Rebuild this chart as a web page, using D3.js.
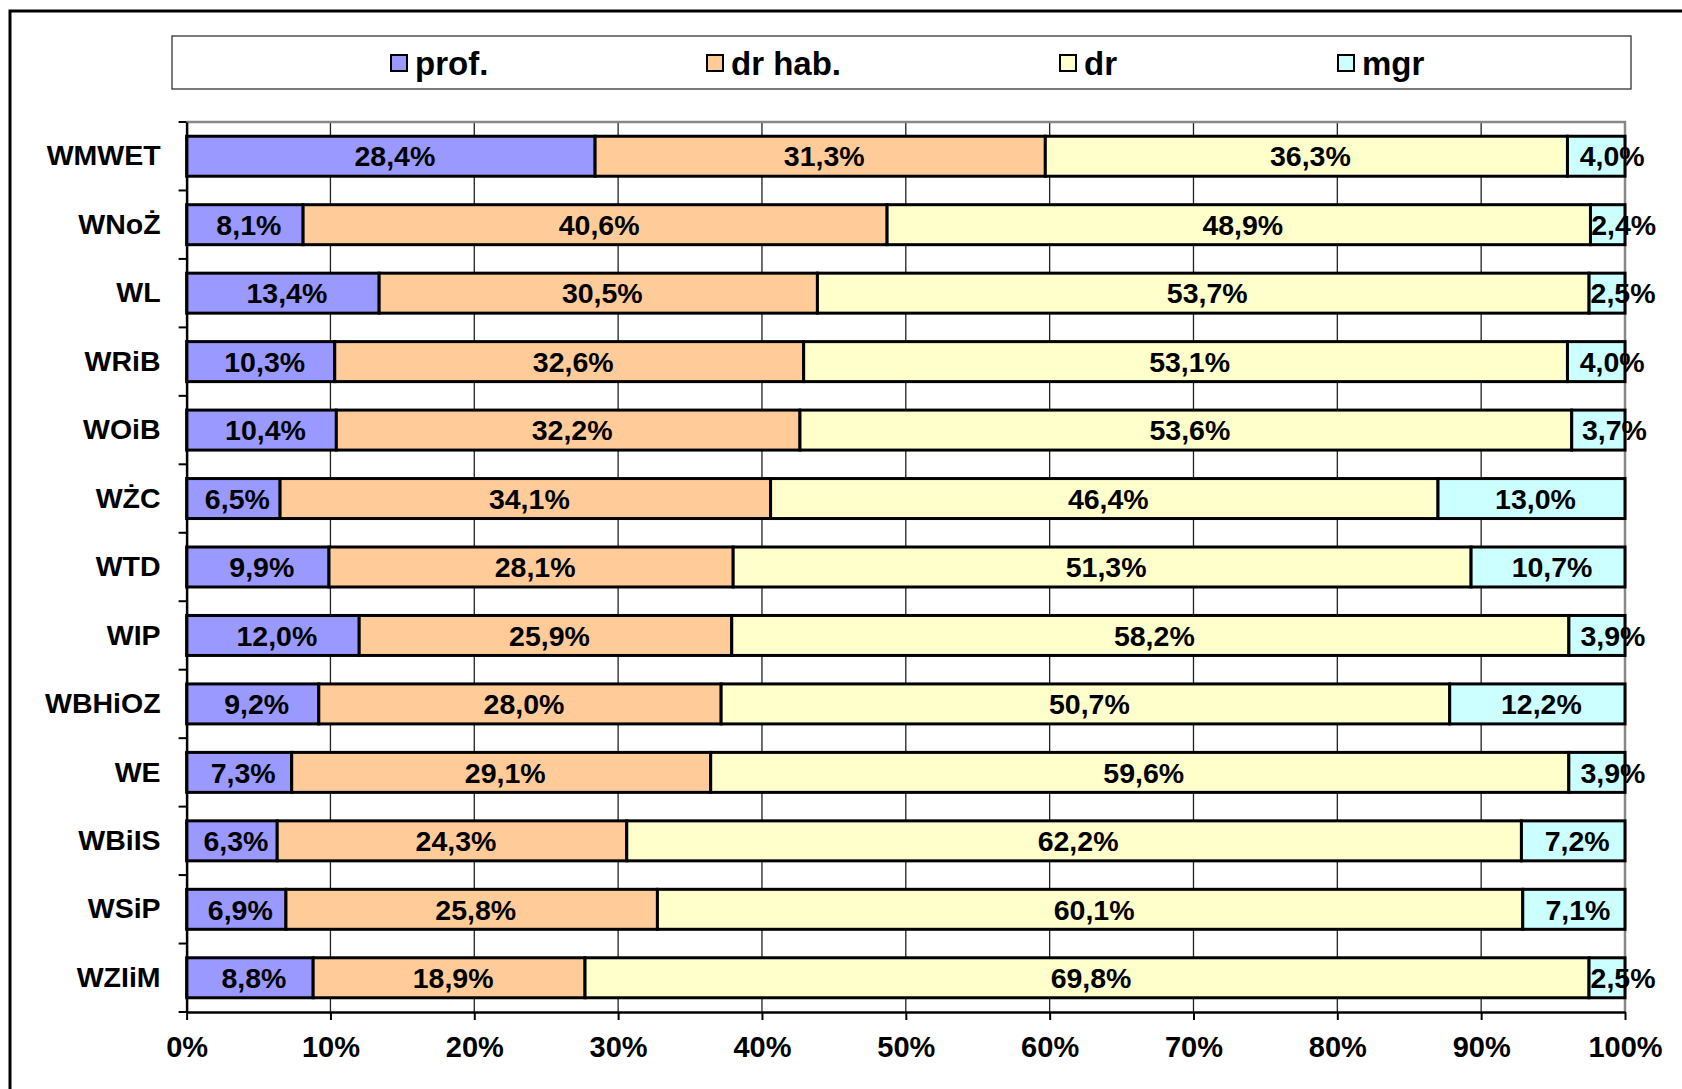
<!DOCTYPE html>
<html>
<head>
<meta charset="utf-8">
<script src="https://cdn.jsdelivr.net/npm/d3@7"></script>
<style>
  body { margin: 0; background: #fff; }
  svg { display: block; }
  text { font-family: "Liberation Sans", Arial, sans-serif; font-weight: bold; fill: #000; }
</style>
</head>
<body>
<svg width="1682" height="1089"></svg>
<script>
// faculties, top to bottom
var categories = ["WMWET", "WNoŻ", "WL", "WRiB", "WOiB", "WŻC", "WTD", "WIP", "WBHiOZ", "WE", "WBiIS", "WSiP", "WZIiM"];

// share of each staff group (%)
var prof  = [28.4, 8.1, 13.4, 10.3, 10.4, 6.5, 9.9, 12.0, 9.2, 7.3, 6.3, 6.9, 8.8];
var drHab = [31.3, 40.6, 30.5, 32.6, 32.2, 34.1, 28.1, 25.9, 28.0, 29.1, 24.3, 25.8, 18.9];
var dr    = [36.3, 48.9, 53.7, 53.1, 53.6, 46.4, 51.3, 58.2, 50.7, 59.6, 62.2, 60.1, 69.8];
var mgr   = [4.0, 2.4, 2.5, 4.0, 3.7, 13.0, 10.7, 3.9, 12.2, 3.9, 7.2, 7.1, 2.5];

var seriesNames = ["prof.", "dr hab.", "dr", "mgr"];
var seriesKeys = ["prof", "drHab", "dr", "mgr"];
var xTicks = [0, 0.1, 0.2, 0.3, 0.4, 0.5, 0.6, 0.7, 0.8, 0.9, 1];

var colors = ["#9999FF", "#FFCC99", "#FFFFCC", "#CCFFFF"];

// rows for d3.stack
var rows = categories.map(function (c, i) {
  return { cat: c, prof: prof[i], drHab: drHab[i], dr: dr[i], mgr: mgr[i] };
});

var svg = d3.select("svg");

// outer chart frame (runs off right and bottom edge)
svg.append("rect")
  .attr("x", 10).attr("y", 11)
  .attr("width", 1700).attr("height", 1100)
  .attr("fill", "#fff")
  .attr("stroke", "#000")
  .attr("stroke-width", 3);

// plot area (window.top is taken, so prefix the names)
var plotLeft = 186.6, plotRight = 1625, plotTop = 122, plotBottom = 1012;

var xScale = d3.scaleLinear()
  .domain([0, 1])
  .range([plotLeft, plotRight]);

var yScale = d3.scaleBand()
  .domain(categories)
  .range([plotTop, plotBottom])
  .paddingInner(0.416)
  .paddingOuter(0.208);

// 100% stacked
var stacked = d3.stack()
  .keys(seriesKeys)
  .offset(d3.stackOffsetExpand)(rows);

// vertical gridlines
svg.selectAll("line.grid")
  .data(xTicks.slice(1, -1))
  .enter()
  .append("line")
  .attr("class", "grid")
  .attr("x1", function (d) { return xScale(d); })
  .attr("x2", function (d) { return xScale(d); })
  .attr("y1", plotTop)
  .attr("y2", plotBottom)
  .attr("stroke", "#222")
  .attr("stroke-width", 1.3);

// gray plot border on top and right
svg.append("path")
  .attr("d", "M" + plotLeft + "," + plotTop + "H" + plotRight + "V" + plotBottom)
  .attr("fill", "none")
  .attr("stroke", "#888")
  .attr("stroke-width", 2.5);

// bars
var groups = svg.selectAll("g.series")
  .data(stacked)
  .enter()
  .append("g")
  .attr("class", "series")
  .attr("fill", function (d, i) { return colors[i]; });

groups.selectAll("rect")
  .data(function (d) { return d; })
  .enter()
  .append("rect")
  .attr("x", function (d) { return xScale(d[0]); })
  .attr("y", function (d) { return yScale(d.data.cat); })
  .attr("width", function (d) { return xScale(d[1]) - xScale(d[0]); })
  .attr("height", yScale.bandwidth())
  .attr("stroke", "#000")
  .attr("stroke-width", 3);

// value labels, centred in each piece
var labels = svg.append("g");
stacked.forEach(function (s) {
  labels.selectAll("text." + s.key)
    .data(s)
    .enter()
    .append("text")
    .attr("class", s.key)
    .attr("y", function (d) { return yScale(d.data.cat) + yScale.bandwidth() / 2; })
    .attr("dy", "0.36em")
    .attr("text-anchor", "middle")
    .style("font-size", "28.5px")
    .text(function (d) {
      return d.data[s.key].toFixed(1).replace(".", ",") + "%";
    })
    .attr("x", function (d) {
      var x0 = xScale(d[0]), x1 = xScale(d[1]);
      // labels wider than their piece spill out to the right, like Excel
      var shift = this.getComputedTextLength() > (x1 - x0) ? 16 : 4;
      return (x0 + x1) / 2 + shift;
    });
});

// left axis with ticks between bands
var yAxis = d3.axisLeft(yScale).tickSize(0).tickPadding(26).tickSizeOuter(0);
var yg = svg.append("g")
  .attr("transform", "translate(" + plotLeft + ",0)")
  .call(yAxis);
yg.select(".domain").attr("stroke", "#000").attr("stroke-width", 2.5);
yg.selectAll("text").style("font-size", "28.5px").attr("fill", "#000");

var bounds = categories.map(function (c) { return yScale(c) - yScale.step() * yScale.paddingInner() / 2; });
bounds.push(plotBottom);
svg.selectAll("line.ytick")
  .data(bounds)
  .enter()
  .append("line")
  .attr("x1", plotLeft - 8).attr("x2", plotLeft)
  .attr("y1", function (d) { return d; })
  .attr("y2", function (d) { return d; })
  .attr("stroke", "#000")
  .attr("stroke-width", 2);

// bottom axis
var xAxis = d3.axisBottom(xScale)
  .tickValues(xTicks)
  .tickFormat(d3.format(".0%"))
  .tickSize(8)
  .tickPadding(16)
  .tickSizeOuter(0);
var xg = svg.append("g")
  .attr("transform", "translate(0," + plotBottom + ")")
  .call(xAxis);
xg.select(".domain").attr("stroke", "#000").attr("stroke-width", 2.5);
xg.selectAll("line").attr("stroke", "#000").attr("stroke-width", 2);
xg.selectAll("text").style("font-size", "29px").attr("fill", "#000");

// legend
svg.append("rect")
  .attr("x", 172).attr("y", 36)
  .attr("width", 1459).attr("height", 53)
  .attr("fill", "#fff")
  .attr("stroke", "#333")
  .attr("stroke-width", 1.3);

var legendX = [391, 707, 1060, 1338];
var legend = svg.selectAll("g.legend")
  .data(seriesNames)
  .enter()
  .append("g")
  .attr("class", "legend")
  .attr("transform", function (d, i) { return "translate(" + legendX[i] + ",55)"; });

legend.append("rect")
  .attr("width", 16).attr("height", 16)
  .attr("fill", function (d, i) { return colors[i]; })
  .attr("stroke", "#000")
  .attr("stroke-width", 2);

legend.append("text")
  .attr("x", 24)
  .attr("y", 8)
  .attr("dy", "0.36em")
  .style("font-size", "33px")
  .text(function (d) { return d; });
</script>
</body>
</html>
